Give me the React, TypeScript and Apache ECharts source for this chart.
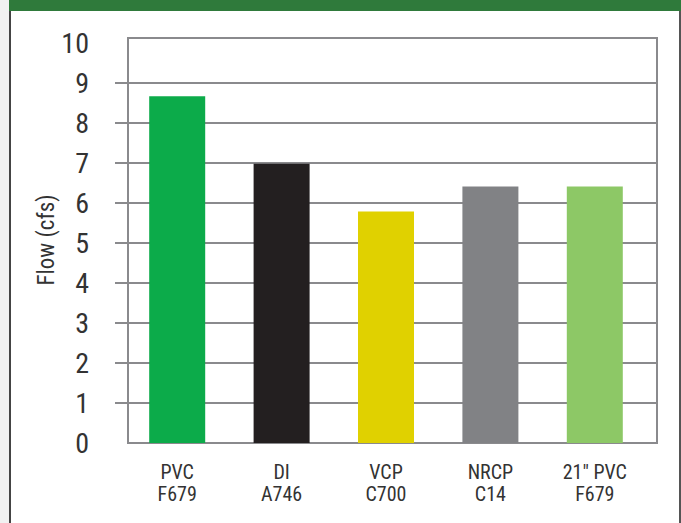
import React, { useEffect, useRef } from "react";
import * as echarts from "echarts";

const categories = ["PVC\nF679", "DI\nA746", "VCP\nC700", "NRCP\nC14", "21\" PVC\nF679"];
const flowValues = [8.67, 6.98, 5.79, 6.41, 6.41];
const yTicks = [0, 1, 2, 3, 4, 5, 6, 7, 8, 9, 10];
const yAxisTitle = "Flow (cfs)";

const barColors = ["#0cab4a", "#231f20", "#e0d100", "#818285", "#8dc866"];
const FONT = "'Roboto Condensed', 'Liberation Sans', Arial, sans-serif";
const GRID_GRAY = "#8a8a8d";
const TEXT = "#333333";

export default function App() {
  const ref = useRef<HTMLDivElement>(null);
  useEffect(() => {
    if (!ref.current) return;
    const chart = echarts.init(ref.current, null, { renderer: "svg" });
    const yMin = yTicks[0];
    const yMax = yTicks[yTicks.length - 1];
    chart.setOption({
      animation: false,
      backgroundColor: "#ffffff",
      grid: [
        { left: 115, right: 24, top: 43, bottom: 80 },
        { left: 128, right: 24, top: 38, bottom: 80, show: true, borderColor: GRID_GRAY, borderWidth: 2, backgroundColor: "transparent" },
        { left: 125, right: 34, top: 43, bottom: 80 },
      ],
      xAxis: [
        { gridIndex: 0, type: "value", show: false },
        { gridIndex: 1, type: "value", show: false },
        {
          gridIndex: 2,
          type: "category",
          data: categories,
          axisLine: { show: false },
          axisTick: { show: false },
          axisLabel: { color: TEXT, fontSize: 20, lineHeight: 22, fontFamily: FONT, margin: 18 },
        },
      ],
      yAxis: [
        {
          gridIndex: 0,
          type: "value",
          min: yMin,
          max: yMax,
          interval: 1,
          axisLine: { show: false },
          axisTick: { show: false },
          axisLabel: { color: TEXT, fontSize: 28, fontFamily: FONT, margin: 26 },
          splitLine: { show: true, showMinLine: false, showMaxLine: false, lineStyle: { color: GRID_GRAY, width: 2 } },
        },
        { gridIndex: 1, type: "value", min: yMin, max: yMax, show: false },
        { gridIndex: 2, type: "value", min: yMin, max: yMax, show: false, splitLine: { show: false } },
      ],
      series: [
        {
          type: "bar",
          xAxisIndex: 2,
          yAxisIndex: 2,
          barWidth: 56,
          data: flowValues.map((v, i) => ({ value: v, itemStyle: { color: barColors[i] } })),
        },
      ],
      graphic: [
        { type: "rect", left: 0, top: 0, shape: { width: 9, height: 523 }, style: { fill: "#f1f1f1" } },
        { type: "rect", left: 9, top: 0, shape: { width: 2, height: 523 }, style: { fill: "#444444" } },
        { type: "rect", left: 9, top: 0, shape: { width: 672, height: 11 }, style: { fill: "#2f7a3b" } },
        { type: "rect", left: 679, top: 11, shape: { width: 2, height: 512 }, style: { fill: "#555555" } },
        {
          type: "text",
          x: 46,
          y: 240,
          rotation: Math.PI / 2,
          style: { text: yAxisTitle, fontSize: 23, fontFamily: FONT, fill: TEXT, align: "center", verticalAlign: "middle" },
        },
      ],
    });
    return () => chart.dispose();
  }, []);
  return <div ref={ref} style={{ position: "absolute", left: 0, top: 0, width: 681, height: 523 }} />;
}
